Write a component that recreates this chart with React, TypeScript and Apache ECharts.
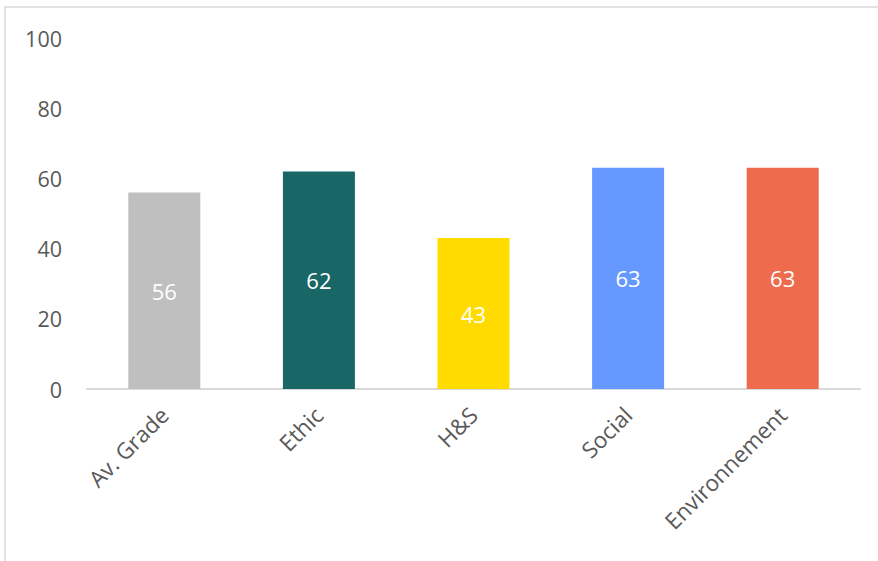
import React, { useEffect, useRef } from "react";
import * as echarts from "echarts";

const categories = ["Av. Grade", "Ethic", "H&S", "Social", "Environnement"];
const values = [56, 62, 43, 63, 63];
const barColors = ["#BFBFBF", "#196666", "#FFDB00", "#6699FF", "#EE6C4D"];

export default function App() {
  const ref = useRef<HTMLDivElement>(null);
  useEffect(() => {
    document.body.style.margin = "0";
    const chart = echarts.init(ref.current!, null, { renderer: "svg" });
    chart.setOption({
      animation: false,
      backgroundColor: "#ffffff",
      graphic: [
        {
          type: "rect",
          shape: { x: 5, y: 7, width: 900, height: 600 },
          style: { fill: "none", stroke: "#D9D9D9", lineWidth: 1.5 },
          silent: true,
        },
      ],
      grid: { left: 87, right: 18, top: 38, bottom: 172, containLabel: false },
      xAxis: {
        type: "category",
        data: categories,
        axisLine: { lineStyle: { color: "#D9D9D9", width: 2 } },
        axisTick: { show: false },
        axisLabel: {
          rotate: 45,
          color: "#595959",
          fontSize: 22.5,
          fontFamily: "Open Sans",
          margin: 22,
          interval: 0,
        },
      },
      yAxis: {
        type: "value",
        min: 0,
        max: 100,
        interval: 20,
        axisLine: { show: false },
        axisTick: { show: false },
        splitLine: { show: false },
        axisLabel: {
          color: "#595959",
          fontSize: 21.5,
          fontFamily: "Open Sans",
          margin: 25,
        },
      },
      series: [
        {
          type: "bar",
          data: values.map((v, i) => ({ value: v, itemStyle: { color: barColors[i] } })),
          barWidth: 72,
          label: {
            show: true,
            position: "inside",
            color: "#ffffff",
            fontSize: 22,
            fontFamily: "Open Sans",
          },
        },
      ],
    });
    return () => chart.dispose();
  }, []);
  return <div ref={ref} style={{ width: 878, height: 561 }} />;
}
